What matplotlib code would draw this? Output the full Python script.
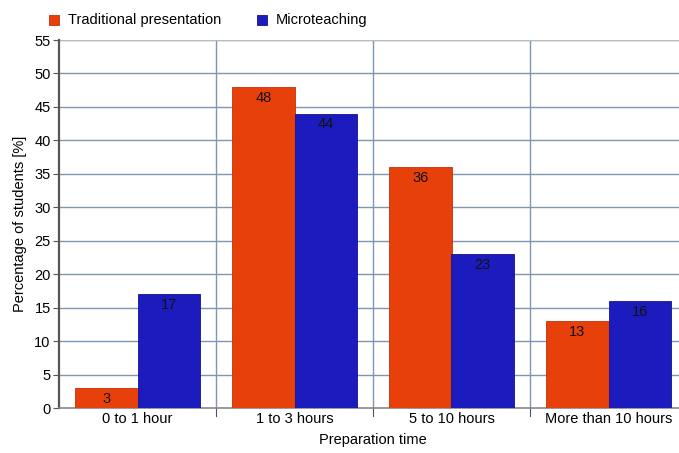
import matplotlib
matplotlib.use("Agg")
import matplotlib.pyplot as plt
import numpy as np
from matplotlib.patches import Rectangle

plt.rcParams['font.family'] = ['Liberation Sans', 'DejaVu Sans']

categories = ["0 to 1 hour", "1 to 3 hours", "5 to 10 hours", "More than 10 hours"]
traditional = [3, 48, 36, 13]
microteaching = [17, 44, 23, 16]
series_names = ["Traditional presentation", "Microteaching"]
yticks = list(range(0, 56, 5))

c_trad = "#E8400A"
c_micro = "#1C1CBE"
grid_c = "#7F96B0"
fs = 10.5

W, H = 679, 453
fig = plt.figure(figsize=(W / 100, H / 100), dpi=100)
ax = fig.add_axes([59 / W, 45 / H, 628 / W, 368 / H])

x = np.arange(len(categories))
bw = 0.395
b1 = ax.bar(x - bw / 2, traditional, bw, color=c_trad, edgecolor="#C03008", linewidth=0.6, zorder=3)
b2 = ax.bar(x + bw / 2, microteaching, bw, color=c_micro, edgecolor="#14148E", linewidth=0.6, zorder=3)

for bars, vals in ((b1, traditional), (b2, microteaching)):
    for r, v in zip(bars, vals):
        ax.text(r.get_x() + r.get_width() / 2, v - 0.55, str(v), ha="center", va="top",
                fontsize=fs, color="#111111", zorder=4)

ax.set_xlim(-0.5, len(categories) - 0.5)
ax.set_ylim(0, 55)
ax.set_yticks(yticks)
ax.set_xticks(x)
ax.set_xticklabels(categories, fontsize=fs)
ax.tick_params(axis="y", labelsize=fs, length=4, width=0.8, color="#555555", pad=2)
ax.tick_params(axis="x", length=0, pad=3)

# horizontal grid and vertical separators between categories
for yv in yticks[1:]:
    ax.axhline(yv, color=grid_c, linewidth=1.0, zorder=1)
for b in np.arange(0.5, len(categories) - 0.5, 1.0):
    ax.axvline(b, color=grid_c, linewidth=1.0, zorder=1)
    ax.plot([b, b], [0, -1.2], color="#555555", linewidth=0.8, clip_on=False, zorder=1)
ax.axhline(55, color="#BBBBBB", linewidth=1.5, zorder=2)

for s in ("top", "right"):
    ax.spines[s].set_visible(False)
ax.spines["left"].set_color("#555555")
ax.spines["left"].set_linewidth(1.6)
ax.spines["bottom"].set_color("#888888")
ax.spines["bottom"].set_linewidth(1.2)

ax.set_ylabel("Percentage of students [%]", fontsize=fs, labelpad=5)
ax.set_xlabel("Preparation time", fontsize=fs, labelpad=5)

# legend row above the plot
for px, name, col, ec in ((49, series_names[0], c_trad, "#C03008"), (257, series_names[1], c_micro, "#14148E")):
    fig.patches.append(Rectangle((px / W, 1 - 25 / H), 10 / W, 10 / H, transform=fig.transFigure,
                                 facecolor=col, edgecolor=ec, linewidth=0.6))
    fig.text((px + 19) / W, 1 - 20 / H, name, fontsize=fs, va="center", ha="left")

fig.savefig("out.png", dpi=100)
